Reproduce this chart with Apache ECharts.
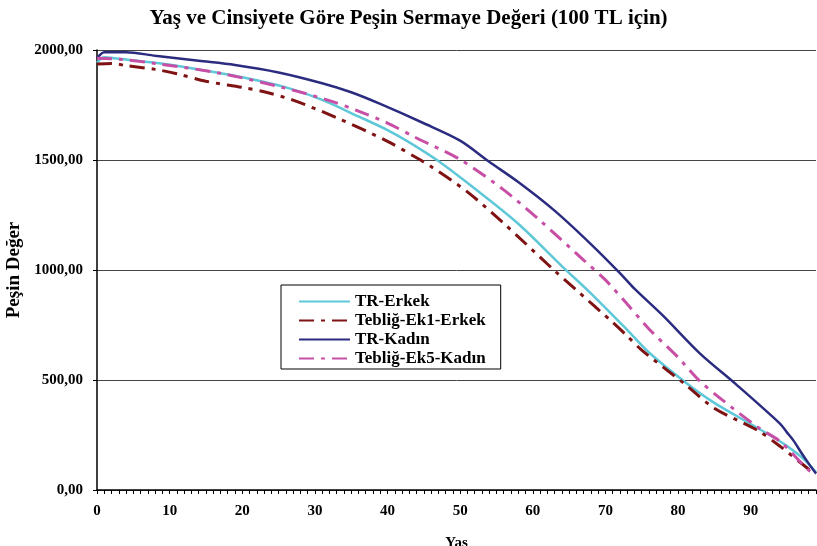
<!DOCTYPE html>
<html>
<head>
<meta charset="utf-8">
<script src="https://cdn.jsdelivr.net/npm/echarts@6/dist/echarts.min.js"></script>
<style>html,body{margin:0;padding:0;background:#fff;overflow:hidden;}#c{width:817px;height:546px;}</style>
</head>
<body>
<div id="c"></div>
<script>
const titleText = 'Yaş ve Cinsiyete Göre Peşin Sermaye Değeri (100 TL için)';
const xName = 'Yaş';
const yName = 'Peşin Değer';
const seriesNames = ['TR-Erkek', 'Tebliğ-Ek1-Erkek', 'TR-Kadın', 'Tebliğ-Ek5-Kadın'];

const trErkekAges   = [0, 1, 3, 8, 13, 20, 26, 31, 36, 40, 43, 47, 52, 58, 64, 68, 73, 76, 81, 85, 90, 93, 95, 97, 98, 99];
const trErkekValues = [1942, 1967, 1960, 1942, 1917, 1876, 1830, 1773, 1698, 1636, 1580, 1495, 1370, 1210, 1018, 894, 728, 625, 490, 396, 300, 242, 200, 150, 118, 80];

const ek1ErkekAges   = [0, 2, 4, 8, 11, 15, 20, 23, 27, 33, 40, 44, 46, 51, 56, 63, 66, 71, 73, 75, 81, 85, 91, 94, 98, 99];
const ek1ErkekValues = [1936, 1939, 1929, 1912, 1892, 1858, 1830, 1810, 1772, 1692, 1585, 1510, 1470, 1355, 1212, 997, 909, 762, 700, 636, 480, 372, 270, 200, 95, 75];

const trKadinAges   = [0, 1, 4, 8, 14, 19, 25, 31, 35, 39, 45, 50, 54, 58, 63, 68, 72, 74, 78, 83, 88, 94, 95, 96, 97, 98, 99];
const trKadinValues = [1962, 1990, 1990, 1974, 1951, 1932, 1898, 1849, 1808, 1755, 1667, 1588, 1492, 1400, 1270, 1118, 986, 915, 790, 621, 480, 303, 262, 220, 168, 120, 75];

const ek5KadinAges   = [0, 3, 8, 17, 26, 32, 36, 40, 44, 50, 56, 61, 67, 70, 73, 76, 80, 83, 86, 91, 94, 98, 99];
const ek5KadinValues = [1962, 1958, 1939, 1894, 1826, 1770, 1722, 1668, 1600, 1502, 1364, 1225, 1045, 955, 845, 732, 603, 495, 412, 285, 222, 90, 70];

const yTicks = [0, 500, 1000, 1500, 2000];

function pairs(a, v) { return a.map((x, i) => [x, v[i]]); }

const serif = '"Liberation Serif", "Times New Roman", serif';
const chart = echarts.init(document.getElementById('c'), null, {renderer: 'canvas', width: 817, height: 546});
chart.setOption({
  backgroundColor: '#fff',
  animation: false,
  title: {
    text: titleText, left: 'center', top: 3,
    textStyle: {fontFamily: serif, fontWeight: 'bold', fontSize: 21, color: '#000'}
  },
  legend: {
    orient: 'vertical', left: 281, top: 285,
    itemWidth: 51, itemHeight: 14, itemGap: 2, itemTextGap: 3,
    padding: [8, 15, 2, 17],
    borderColor: '#000', borderWidth: 1, backgroundColor: '#fff',
    itemStyle: {opacity: 0},
    textStyle: {fontFamily: serif, fontWeight: 'bold', fontSize: 17, color: '#000'},
    data: seriesNames
  },
  grid: {left: 97, width: 719, top: 50, height: 440, containLabel: false, outerBoundsMode: 'none'},
  xAxis: {
    type: 'value', min: 0, max: 99, interval: 10,
    name: xName, nameLocation: 'middle', nameGap: 46,
    nameTextStyle: {fontFamily: serif, fontWeight: 'bold', fontSize: 15, color: '#000'},
    axisLine: {show: true, onZero: false, lineStyle: {color: '#000', width: 1.5}},
    axisTick: {show: true, length: 4, lineStyle: {color: '#000'}},
    minorTick: {show: true, splitNumber: 10, length: 4, lineStyle: {color: '#000'}},
    axisLabel: {showMaxLabel: false, margin: 14, fontFamily: serif, fontWeight: 'bold', fontSize: 15, color: '#000'},
    splitLine: {show: false}
  },
  yAxis: {
    type: 'value', min: yTicks[0], max: yTicks[yTicks.length - 1], interval: 500,
    name: yName, nameLocation: 'middle', nameGap: 70, nameRotate: 90,
    nameTextStyle: {fontFamily: serif, fontWeight: 'bold', fontSize: 19, color: '#000'},
    axisLine: {show: true, lineStyle: {color: '#000', width: 1.5}},
    axisTick: {show: true, length: 4, lineStyle: {color: '#000'}},
    axisLabel: {
      margin: 14, fontFamily: serif, fontWeight: 'bold', fontSize: 15, color: '#000',
      formatter: v => v.toFixed(2).replace('.', ',')
    },
    splitLine: {show: true, lineStyle: {color: '#444', width: 1}}
  },
  series: [
    {name: seriesNames[0], type: 'line', data: pairs(trErkekAges, trErkekValues), symbol: 'none', smooth: 0.3,
     color: '#5ec8d8', lineStyle: {color: '#5ec8d8', width: 2.5}},
    {name: seriesNames[1], type: 'line', data: pairs(ek1ErkekAges, ek1ErkekValues), symbol: 'none', smooth: 0.3,
     color: '#7f1212', lineStyle: {color: '#7f1212', width: 3, type: [15, 7, 4, 7]}},
    {name: seriesNames[2], type: 'line', data: pairs(trKadinAges, trKadinValues), symbol: 'none', smooth: 0.3,
     color: '#2b2c80', lineStyle: {color: '#2b2c80', width: 2.5}},
    {name: seriesNames[3], type: 'line', data: pairs(ek5KadinAges, ek5KadinValues), symbol: 'none', smooth: 0.3,
     color: '#c84fa6', lineStyle: {color: '#c84fa6', width: 3, type: [15, 7, 4, 7]}}
  ]
});
</script>
</body>
</html>
